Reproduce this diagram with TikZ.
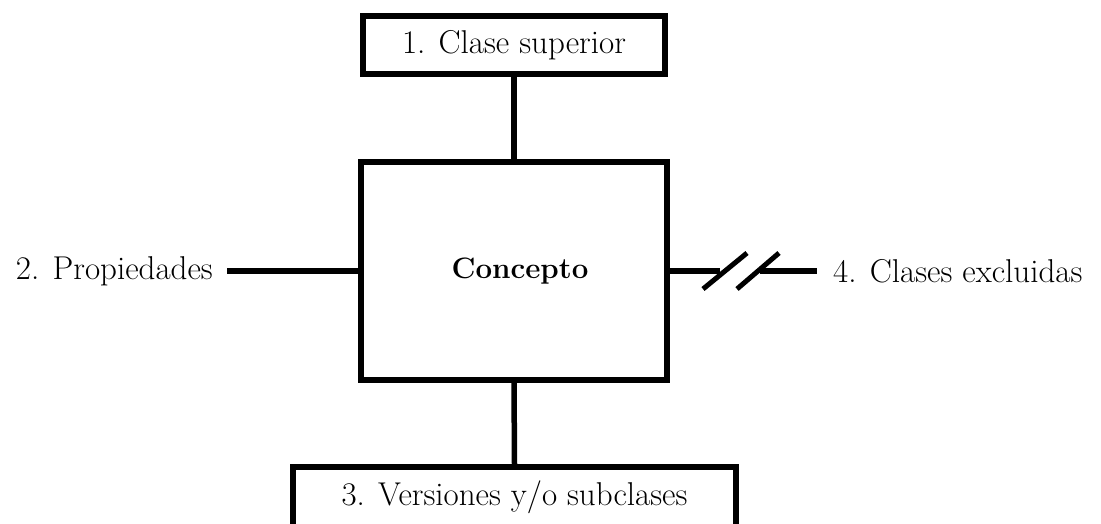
\documentclass[tikz,border=0pt]{standalone}
\usepackage{fontspec}
\begin{document}
\begin{tikzpicture}[x=1pt,y=-1pt,
  lbl/.style={font=\fontsize{33}{38}\selectfont, inner sep=0pt},
  boxed/.style={draw, line width=5.5pt, fill=white, inner sep=0pt},
  conn/.style={line width=5.5pt},
  slash/.style={line width=5pt}]
\useasboundingbox (0,0) rectangle (1101,523);
\clip (0,0) rectangle (1101,523);
\node[boxed, minimum width=306pt, minimum height=218pt] (main) at (514,271) {};
\node[font=\fontsize{29.5}{34}\selectfont\bfseries, inner sep=0pt] (concept) at (520,271) {Concepto};
\node[boxed, lbl, minimum width=302pt, minimum height=58pt] (sup) at (514,45) {1. Clase superior};
\node[boxed, minimum width=443pt, minimum height=80pt] (sub) at (514.5,507) {};
\node[lbl] (subtxt) at (514.5,497) {3. Versiones y/o subclases};
\node[lbl, anchor=east] (prop) at (213,271) {2. Propiedades};
\node[lbl, anchor=west] (excl) at (833,271) {4. Clases excluidas};
\coordinate (pe) at (227,271);
\coordinate (ew) at (817,271);
\coordinate (b1) at (720,271);
\coordinate (b2) at (760,271);
\draw[conn] (sup.south) -- (main.north);
\draw[conn] (main.south) -- (sub.north);
\draw[conn] (main.west) -- (pe);
\draw[conn] (main.east) -- (b1);
\draw[conn] (b2) -- (ew);
\draw[slash] (703,289) -- (747,253);
\draw[slash] (737,289) -- (779,253);
\end{tikzpicture}
\end{document}
